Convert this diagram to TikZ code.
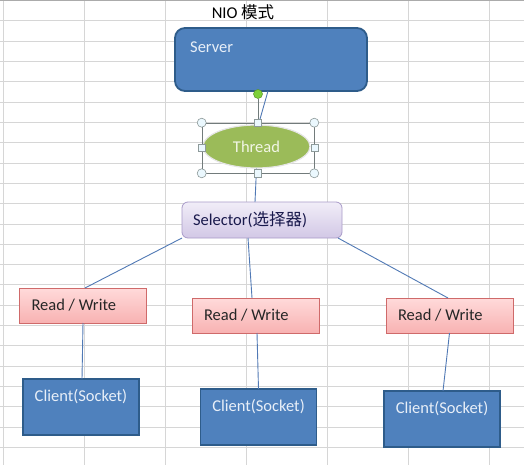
\documentclass[tikz,border=0pt]{standalone}
\usepackage{fontspec}
\setmainfont{Carlito}
\newfontfamily\cjk{Noto Sans CJK SC}
\usepackage{xcolor}
\usetikzlibrary{positioning, shapes.geometric}

\definecolor{officeblue}{HTML}{4F81BD}
\definecolor{officeedge}{HTML}{2E5C8A}
\definecolor{hosttext}{HTML}{E8EFF8}
\definecolor{threadgreen}{HTML}{9BBB59}
\definecolor{threadtext}{HTML}{F2F6E6}
\definecolor{rwtop}{HTML}{FFDADA}
\definecolor{rwbot}{HTML}{F8B2B2}
\definecolor{rwedge}{HTML}{CF6A6A}
\definecolor{seltop}{HTML}{F1EDF8}
\definecolor{selbot}{HTML}{D2C8E6}
\definecolor{seledge}{HTML}{A99BC9}
\definecolor{linkblue}{HTML}{5079B5}
\definecolor{gridgray}{HTML}{D6D6D6}
\definecolor{handlegray}{HTML}{8E9A9A}
\definecolor{rotgreen}{HTML}{7ED03A}

% text set flush left in a box of the given width
\newcommand{\flushtext}[2]{\makebox[#1][l]{#2}}

\begin{document}
\begin{tikzpicture}[x=1pt, y=-1pt, every node/.style={font=\fontsize{16.5}{18}\selectfont}]

  \tikzstyle{module}=[draw, inner sep=0pt, outer sep=0pt, align=center]
  \tikzstyle{host}=[module, fill=officeblue, draw=officeedge, line width=1.8pt]
  \tikzstyle{rw}=[module, top color=rwtop, bottom color=rwbot, draw=rwedge, line width=0.8pt,
    minimum width=127pt, minimum height=35pt, text=black!85]
  \tikzstyle{client}=[host, minimum width=116pt, minimum height=56pt]
  \tikzstyle{link}=[draw=linkblue, line width=0.9pt]
  \tikzstyle{corner}=[circle, draw=handlegray, fill=white!92!cyan, line width=0.6pt, minimum size=9pt, inner sep=0pt]
  \tikzstyle{side}=[rectangle, draw=handlegray, fill=white!92!cyan, line width=0.6pt, minimum size=7pt, inner sep=0pt]

  \useasboundingbox (0,0) rectangle (524,465);
  \fill[white] (0,0) rectangle (524,465);

  % sheet grid
  \foreach \gx in {3,84,165,246,327,408,489}
    \draw[gridgray, line width=1pt] (\gx,0) -- (\gx,465);
  \foreach \k in {0,...,21}
    \draw[gridgray, line width=1pt] (0,21+20.3*\k) -- (524,21+20.3*\k);
  \draw[gridgray!80!black, line width=1pt] (0,0.5) -- (524,0.5);

  \node (title) at (243,12) {NIO {\cjk 模式}};

  \node [host, rounded corners=10pt, minimum width=192pt, minimum height=63pt,
    label={[anchor=north west, inner sep=0pt, text=hosttext, xshift=15pt, yshift=-14pt]north west:Server}]
    (server) at (271,59.5) {};

  \node [ellipse, fill=threadgreen, draw=white!80!gray, line width=1.2pt, text=threadtext,
    minimum width=107pt, minimum height=43pt] (thread) at (256.5,146.5) {Thread};

  \node [module, rounded corners=6pt, top color=seltop, bottom color=selbot, draw=seledge,
    line width=0.8pt, minimum width=160pt, minimum height=36pt,
    text=black!75!blue!80!gray] (selector) at (262,220) {\flushtext{138pt}{Selector({\cjk 选择器})}};

  \node [rw] (rwL) at (83,305.5) {\flushtext{103pt}{Read / Write}};
  \node [rw] (rwM) at (255.5,315.5) {\flushtext{103pt}{Read / Write}};
  \node [rw] (rwR) at (449.5,315.5) {\flushtext{103pt}{Read / Write}};

  \node [client, below=56pt of rwL, xshift=-2pt] (clientL) {};
  \node [client, below=56pt of rwM, xshift=3pt] (clientM) {};
  \node [client, below=58pt of rwR, xshift=-7.5pt] (clientR) {};
  \foreach \c in {clientL, clientM, clientR}
    \node [anchor=north, inner sep=0pt, text=hosttext, yshift=-10pt] (\c-text) at (\c.north) {Client(Socket)};

  \draw [link] ([xshift=-3pt]server.south) -- ([xshift=2pt]thread.north);
  \draw [link] (thread.south) -- ([xshift=-7pt]selector.north);

  \draw [link] (selector.south west) -- ([xshift=2pt]rwL.north);
  \draw [link] ([xshift=-14pt]selector.south) -- ([xshift=-3.5pt]rwM.north);
  \draw [link] ([xshift=-4pt]selector.south east) -- ([xshift=-1.5pt]rwR.north);

  \draw [link] (rwL.south) -- ([xshift=1pt]clientL.north);
  \draw [link] ([xshift=1.5pt]rwM.south) -- (clientM.north);
  \draw [link] (rwR.south) -- ([xshift=1pt]clientR.north);

  % selection handles of the thread shape
  \node [draw=handlegray!80!black, line width=0.6pt, minimum width=112pt, minimum height=50pt,
    inner sep=0pt] (frame) at (258,148) {};
  \node [circle, fill=rotgreen, draw=rotgreen!70!black, line width=0.5pt, minimum size=9pt,
    inner sep=0pt] (rot) at (258,94) {};
  \draw [handlegray!80!black, line width=0.6pt] (rot) -- (frame.north);
  \foreach \a in {north west, north east, south west, south east}
    \node [corner] at (frame.\a) {};
  \foreach \a in {north, south, east, west}
    \node [side] at (frame.\a) {};
\end{tikzpicture}
\end{document}
